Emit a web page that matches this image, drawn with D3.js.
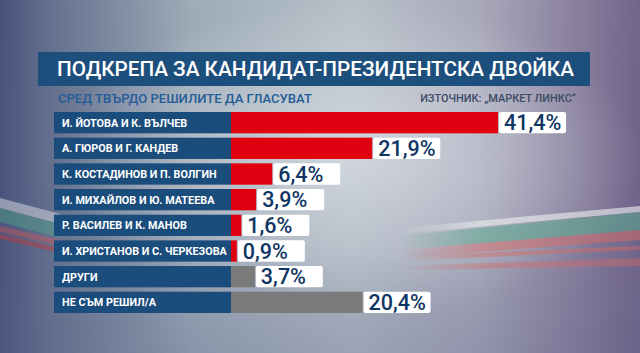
<!DOCTYPE html>
<style>
body { margin: 0; }
svg { display: block; }
</style>
<svg width="640" height="353"></svg>
<script src="https://cdn.jsdelivr.net/npm/d3@7"></script>
<script>

var labels = ["И. ЙОТОВА И К. ВЪЛЧЕВ", "А. ГЮРОВ И Г. КАНДЕВ", "К. КОСТАДИНОВ И П. ВОЛГИН",
              "И. МИХАЙЛОВ И Ю. МАТЕЕВА", "Р. ВАСИЛЕВ И К. МАНОВ", "И. ХРИСТАНОВ И С. ЧЕРКЕЗОВА",
              "ДРУГИ", "НЕ СЪМ РЕШИЛ/А"];
var values = [41.4, 21.9, 6.4, 3.9, 1.6, 0.9, 3.7, 20.4];
var groups = ["pair", "pair", "pair", "pair", "pair", "pair", "other", "other"];

var title = "ПОДКРЕПА ЗА КАНДИДАТ-ПРЕЗИДЕНТСКА ДВОЙКА",
    subtitle = "СРЕД ТВЪРДО РЕШИЛИТЕ ДА ГЛАСУВАТ",
    source = "ИЗТОЧНИК: „МАРКЕТ ЛИНКС“";

var svg = d3.select("svg"),
    width = +svg.attr("width"),
    height = +svg.attr("height");

var defs = svg.append("defs");

var bgH = defs.append("linearGradient").attr("id", "bgH");
[[0, "#48537c"], [0.08, "#65718f"], [0.3, "#9eacb8"], [0.55, "#b6c0c8"], [0.75, "#a9a9ba"], [0.9, "#8a809e"], [1, "#71658a"]]
  .forEach(function(s) { bgH.append("stop").attr("offset", s[0]).attr("stop-color", s[1]); });

var bgV = defs.append("linearGradient").attr("id", "bgV").attr("x2", 0).attr("y2", 1);
bgV.append("stop").attr("offset", 0).attr("stop-color", "#5a6088").attr("stop-opacity", 0);
bgV.append("stop").attr("offset", 0.7).attr("stop-color", "#5a6088").attr("stop-opacity", 0.1);
bgV.append("stop").attr("offset", 1).attr("stop-color", "#5a6088").attr("stop-opacity", 0.3);

var haze = defs.append("radialGradient").attr("id", "haze").attr("cx", 0.55).attr("cy", 0.45).attr("r", 0.45);
haze.append("stop").attr("offset", 0).attr("stop-color", "#e4e8ec").attr("stop-opacity", 0.75);
haze.append("stop").attr("offset", 1).attr("stop-color", "#e4e8ec").attr("stop-opacity", 0);

var fadeR = defs.append("linearGradient").attr("id", "fadeR");
fadeR.append("stop").attr("offset", 0).attr("stop-color", "#fff").attr("stop-opacity", 0);
fadeR.append("stop").attr("offset", 0.35).attr("stop-color", "#fff").attr("stop-opacity", 1);
defs.append("mask").attr("id", "maskR")
  .append("rect").attr("x", 400).attr("y", 0).attr("width", 240).attr("height", height).attr("fill", "url(#fadeR)");

svg.append("rect").attr("width", width).attr("height", height).attr("fill", "url(#bgH)");
svg.append("rect").attr("width", width).attr("height", height).attr("fill", "url(#haze)");
svg.append("rect").attr("width", width).attr("height", height).attr("fill", "url(#bgV)");

// flag ribbons in the background
var ribbons = svg.append("g");
ribbons.append("path").attr("d", "M0,198L60,214L60,224L0,208Z").attr("fill", "#e8ecee").attr("opacity", 0.45);
ribbons.append("path").attr("d", "M0,208L60,224L60,238L0,222Z").attr("fill", "#4fa384").attr("opacity", 0.45);
ribbons.append("path").attr("d", "M0,226L60,240L60,246L0,232Z").attr("fill", "#d9534e").attr("opacity", 0.4);
ribbons.append("path").attr("d", "M0,234L60,248L60,253L0,239Z").attr("fill", "#c23a3a").attr("opacity", 0.45);

var right = ribbons.append("g").attr("mask", "url(#maskR)");
right.append("path").attr("d", "M400,228L640,206L640,212L400,234Z").attr("fill", "#eef0f0").attr("opacity", 0.6);
right.append("path").attr("d", "M400,236L640,212L640,230L400,250Z").attr("fill", "#5aa98c").attr("opacity", 0.55);
right.append("path").attr("d", "M400,250L640,230L640,240L400,258Z").attr("fill", "#d86a64").attr("opacity", 0.5);
right.append("path").attr("d", "M400,256L640,246L640,250L400,261Z").attr("fill", "#d86a64").attr("opacity", 0.45);
right.append("path").attr("d", "M400,266L640,258L640,266L400,270Z").attr("fill", "#d86a64").attr("opacity", 0.4);

function fitText(sel, w) {
  var len = sel.node().getComputedTextLength();
  var fs = parseFloat(sel.attr("font-size"));
  sel.attr("font-size", (fs * w / len).toFixed(2));
}

// title
svg.append("rect").attr("x", 38).attr("y", 52).attr("width", 552).attr("height", 34).attr("fill", "#1d4f7d");
svg.append("text").attr("x", 57).attr("y", 69).attr("dy", "0.35em")
    .attr("font-family", "Roboto").attr("font-weight", 500).attr("font-size", 21)
    .attr("fill", "#fff").text(title)
    .call(fitText, 517);

svg.append("text").attr("x", 58).attr("y", 98).attr("dy", "0.35em")
    .attr("font-family", "Roboto").attr("font-weight", 500).attr("font-size", 12)
    .attr("fill", "#245c98").text(subtitle)
    .call(fitText, 254);

svg.append("text").attr("x", 576).attr("y", 98).attr("dy", "0.35em").attr("text-anchor", "end")
    .attr("font-family", "Roboto").attr("font-weight", 500).attr("font-size", 11)
    .attr("fill", "#3b4a66").text(source)
    .call(fitText, 156);

// scales
var x = d3.scaleLinear().domain([0, 50]).range([231, 553.5]);
var y = d3.scaleBand().domain(labels).range([112, 313]).paddingInner(0.17);
var color = d3.scaleOrdinal().domain(["pair", "other"]).range(["#e0000f", "#7b7b7b"]);

var rows = svg.append("g").selectAll("g")
  .data(labels.map(function(l, i) { return {label: l, value: values[i], group: groups[i]}; }))
  .enter().append("g")
    .attr("transform", function(d) { return "translate(0," + y(d.label) + ")"; });

rows.append("rect")
    .attr("x", 54).attr("width", x(0) - 54).attr("height", y.bandwidth())
    .attr("fill", "#1b4d7c");

var names = rows.append("text")
    .attr("x", 62).attr("y", y.bandwidth() / 2).attr("dy", "0.36em")
    .attr("font-family", "Roboto").attr("font-weight", 700).attr("font-size", 11)
    .attr("fill", "#fff")
    .text(function(d) { return d.label; });

// size the names so the longest one spans the box as in the original
var longest = d3.max(names.nodes(), function(n) { return n.getComputedTextLength(); });
names.attr("font-size", (11 * 165 / longest).toFixed(2));

rows.append("rect")
    .attr("x", function(d) { return x(d.value) + 1; })
    .attr("width", 67).attr("height", y.bandwidth()).attr("rx", 2)
    .attr("fill", "#fff");

rows.append("rect")
    .attr("x", x(0)).attr("width", function(d) { return x(d.value) - x(0); })
    .attr("height", y.bandwidth())
    .attr("fill", function(d) { return color(d.group); });

rows.append("text")
    .attr("x", function(d) { return x(d.value) + 6; })
    .attr("y", y.bandwidth() / 2).attr("dy", "0.36em")
    .attr("font-family", "Roboto").attr("font-weight", 500).attr("font-size", 21.5)
    .attr("fill", "#0f3563")
    .text(function(d) { return d3.format(".1f")(d.value).replace(".", ",") + "%"; });

</script>
